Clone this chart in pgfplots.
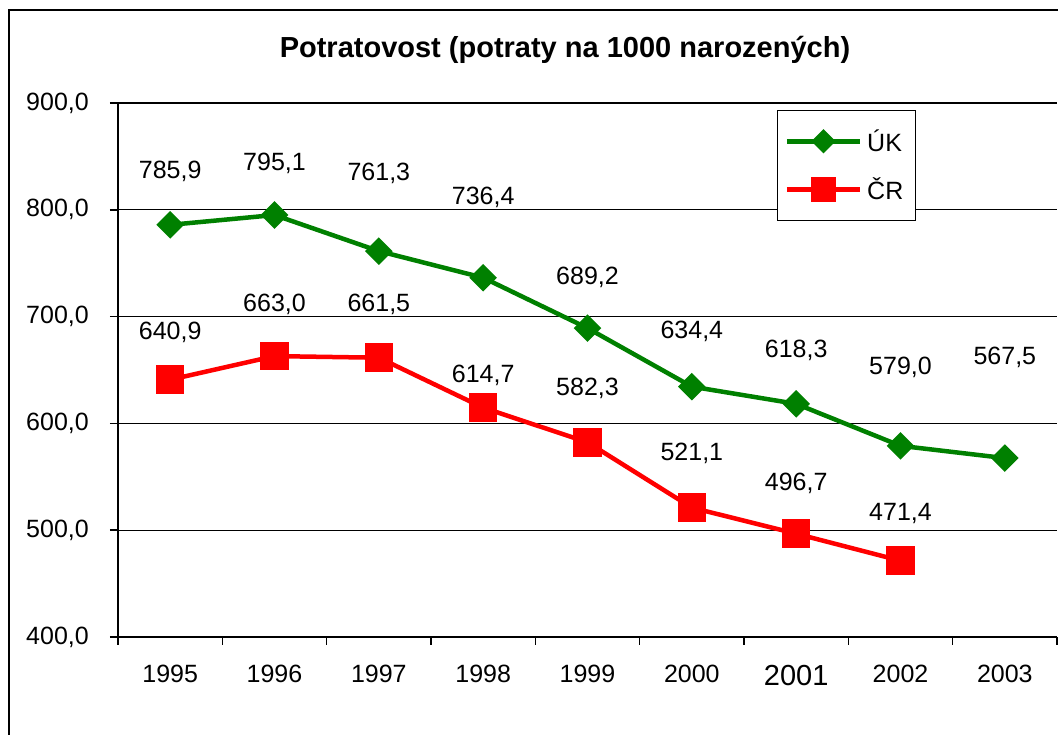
\documentclass[border=0pt]{standalone}
\usepackage{fontspec}
\setmainfont{Liberation Sans}
\usepackage{pgfplots}
\pgfplotsset{compat=1.18}
\usepackage{pgfplotstable}

\definecolor{ukgreen}{RGB}{0,128,0}
\definecolor{crred}{RGB}{255,0,0}
\newcommand\lab{\fontsize{25bp}{30bp}\selectfont}

\pgfplotstableread{
x y
0 785.9
1 795.1
2 761.3
3 736.4
4 689.2
5 634.4
6 618.3
7 579.0
8 567.5
}\ukdata

\pgfplotstableread{
x y
0 640.9
1 663.0
2 661.5
3 614.7
4 582.3
5 521.1
6 496.7
7 471.4
}\crdata

\pgfplotstableread{
x ly label
0 836.3 785,9
1 843.8 795,1
2 834.5 761,3
3 812.0 736,4
4 737.0 689,2
5 686.5 634,4
6 668.0 618,3
7 652.0 579,0
8 662.0 567,5
}\uklab

\pgfplotstableread{
x ly label
0 685.0 640,9
1 711.0 663,0
2 711.0 661,5
3 645.3 614,7
4 633.0 582,3
5 572.3 521,1
6 544.2 496,7
7 515.2 471,4
}\crlab

\begin{document}
\begin{tikzpicture}[x=1bp,y=1bp]
\useasboundingbox (-118,-98) rectangle (940,637);
\clip (-118,-98) rectangle (940,637);
\draw[line width=2bp] (-109,-400) rectangle (1200,627);
\node[font=\fontsize{29bp}{34bp}\selectfont\bfseries] at (447,587) {Potratovost (potraty na 1000 narozených)};
\begin{axis}[
  at={(0,0)}, anchor=south west,
  width=939bp, height=534bp, scale only axis,
  xmin=-0.5, xmax=8.5, ymin=400, ymax=900,
  axis x line*=bottom, axis y line*=left,
  axis line style={line width=2bp, black, -},
  xtick={0,...,8},
  xticklabels={1995,1996,1997,1998,1999,2000,{\fontsize{29bp}{34bp}\selectfont 2001},2002,2003},
  minor xtick={-0.5,0.5,...,8.5},
  major x tick style={draw=none},
  minor x tick style={black, line width=1.5bp},
  minor tick length=8bp,
  ytick={400,500,...,900},
  major y tick style={black, line width=1.5bp},
  major tick length=8bp,
  tick align=outside,
  ymajorgrids,
  grid style={black, line width=1.3bp},
  tick label style={font=\lab},
  /pgf/number format/assume math mode=true,
  yticklabel={\pgfmathprintnumber[fixed, fixed zerofill, precision=1, use comma, 1000 sep={}]{\tick}},
  yticklabel style={anchor=east, inner sep=0pt, xshift=-21bp},
  xticklabel style={anchor=north, inner sep=0pt, yshift=-20bp},
  legend style={at={(0.7018,0.9869)}, anchor=north west, draw=black, line width=1.5bp,
    font=\lab, inner xsep=7bp, inner ysep=16bp, row sep=19bp,
    nodes={inner xsep=5bp, inner ysep=3bp}},
  legend cell align=left,
  legend image code/.code={\draw[mark repeat=2, mark phase=2, #1] plot coordinates {(0bp,0bp) (36.5bp,0bp) (73bp,0bp)};},
  clip=false,
]
\addlegendimage{ukgreen, line width=4.5bp, mark=square*, mark size=6.3bp, mark options={rotate=45}}
\addlegendimage{crred, line width=4.5bp, mark=square*, mark size=10bp}
\addplot[ukgreen, line width=4.5bp, mark=square*, mark size=7.5bp, mark options={rotate=45}, forget plot] table[x=x,y=y]{\ukdata};
\addplot[crred, line width=4.5bp, mark=square*, mark size=12bp, forget plot] table[x=x,y=y]{\crdata};
\addplot[draw=none, mark=none, forget plot, nodes near coords, point meta=explicit symbolic,
  every node near coord/.append style={anchor=center, inner sep=0pt, font=\lab, black}]
  table[x=x,y=ly,meta=label]{\uklab};
\addplot[draw=none, mark=none, forget plot, nodes near coords, point meta=explicit symbolic,
  every node near coord/.append style={anchor=center, inner sep=0pt, font=\lab, black}]
  table[x=x,y=ly,meta=label]{\crlab};
\legend{ÚK, ČR}
\end{axis}
\end{tikzpicture}
\end{document}
